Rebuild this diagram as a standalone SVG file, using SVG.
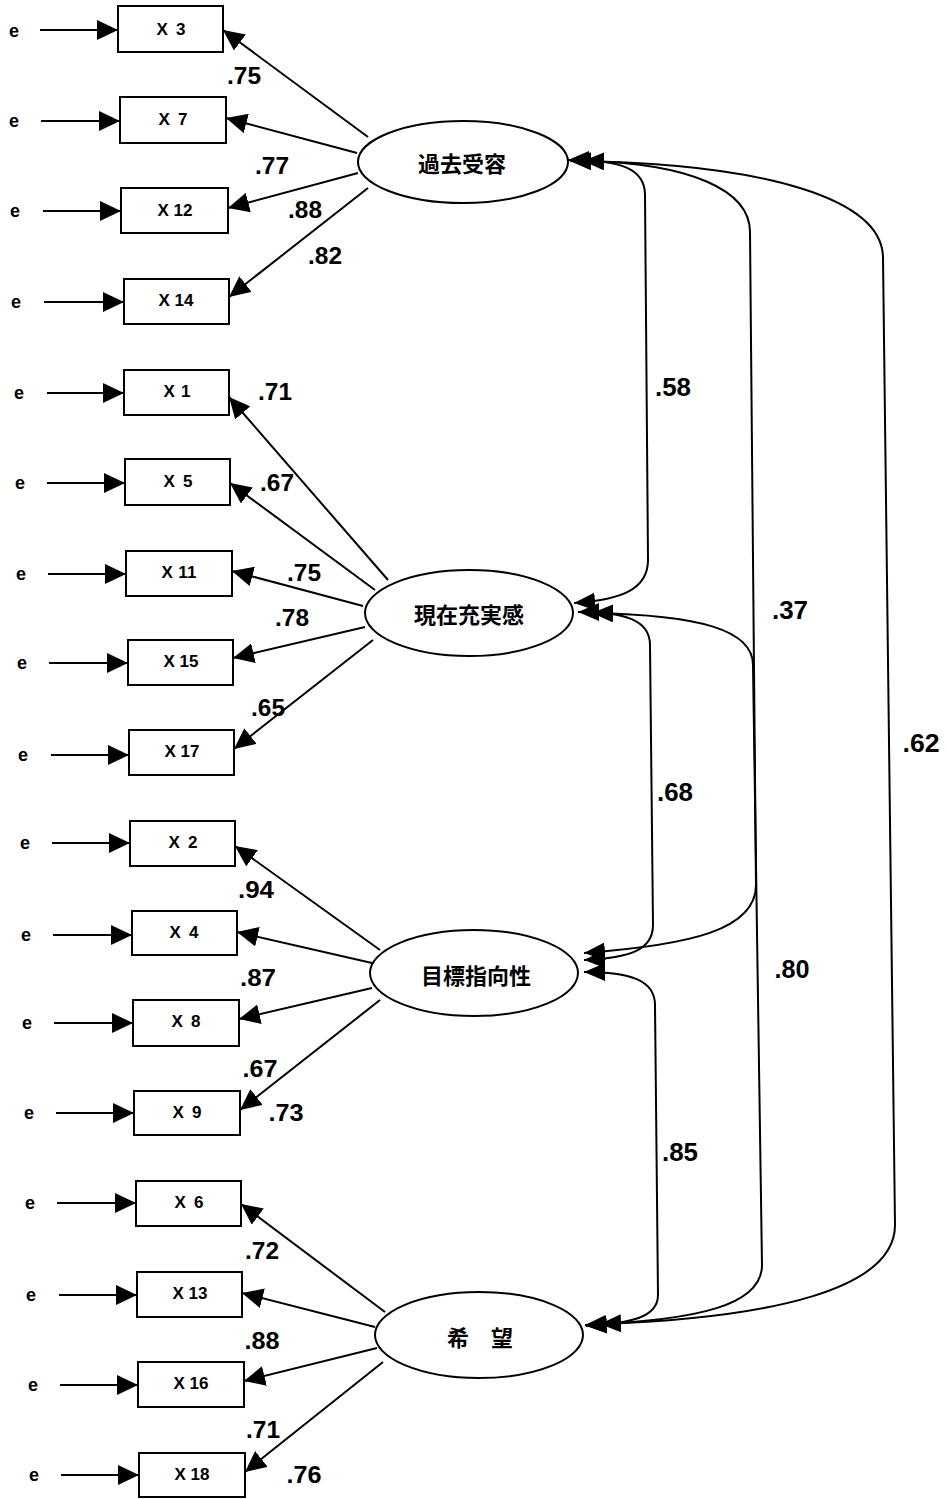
<svg xmlns="http://www.w3.org/2000/svg" width="946" height="1499" viewBox="0 0 946 1499">
<style>
.bx{fill:#fff;stroke:#000;stroke-width:2}
.el{fill:#fff;stroke:#000;stroke-width:2}
.ln{fill:none;stroke:#000;stroke-width:2}
.t{font-family:"Liberation Sans",Arial,sans-serif;font-weight:bold;fill:#000;dominant-baseline:central}
.bl{font-size:17px;text-anchor:middle}
.e{font-size:18px;text-anchor:middle}
.n{font-size:24px;text-anchor:middle}
.r{font-size:25px;text-anchor:middle}
.j{font-family:"Noto Sans CJK JP","Noto Sans CJK SC",sans-serif;font-weight:bold;font-size:22px;text-anchor:middle;dominant-baseline:central}
</style>
<defs>
<marker id="ah" markerUnits="userSpaceOnUse" markerWidth="22" markerHeight="20" refX="21" refY="10" orient="auto-start-reverse" viewBox="0 0 22 20">
<path d="M0,0 L21,10 L0,20 z" fill="#000"/>
</marker>
<marker id="ch" markerUnits="userSpaceOnUse" markerWidth="22" markerHeight="18" refX="21" refY="9" orient="auto-start-reverse" viewBox="0 0 22 18">
<path d="M0,0 L21,9 L0,18 z" fill="#000"/>
</marker>
</defs>

<g id="connectors">
<line class="ln" x1="40" y1="30" x2="118" y2="30" marker-end="url(#ah)"/>
<line class="ln" x1="41" y1="121" x2="120" y2="121" marker-end="url(#ah)"/>
<line class="ln" x1="43" y1="211" x2="121" y2="211" marker-end="url(#ah)"/>
<line class="ln" x1="44" y1="302" x2="124" y2="302" marker-end="url(#ah)"/>
<line class="ln" x1="47" y1="393" x2="124" y2="393" marker-end="url(#ah)"/>
<line class="ln" x1="47" y1="483" x2="125" y2="483" marker-end="url(#ah)"/>
<line class="ln" x1="48" y1="574" x2="126" y2="574" marker-end="url(#ah)"/>
<line class="ln" x1="49" y1="663" x2="128" y2="663" marker-end="url(#ah)"/>
<line class="ln" x1="51" y1="755" x2="129" y2="755" marker-end="url(#ah)"/>
<line class="ln" x1="52" y1="843" x2="130" y2="843" marker-end="url(#ah)"/>
<line class="ln" x1="53" y1="935" x2="132" y2="935" marker-end="url(#ah)"/>
<line class="ln" x1="54" y1="1023" x2="133" y2="1023" marker-end="url(#ah)"/>
<line class="ln" x1="56" y1="1113" x2="134" y2="1113" marker-end="url(#ah)"/>
<line class="ln" x1="57" y1="1203" x2="136" y2="1203" marker-end="url(#ah)"/>
<line class="ln" x1="59" y1="1295" x2="137" y2="1295" marker-end="url(#ah)"/>
<line class="ln" x1="60" y1="1385" x2="138" y2="1385" marker-end="url(#ah)"/>
<line class="ln" x1="61" y1="1475" x2="139" y2="1475" marker-end="url(#ah)"/>
<line class="ln" x1="368" y1="137" x2="223" y2="30" marker-end="url(#ah)"/>
<line class="ln" x1="357" y1="153" x2="226" y2="118" marker-end="url(#ah)"/>
<line class="ln" x1="358" y1="173" x2="228" y2="208" marker-end="url(#ah)"/>
<line class="ln" x1="368" y1="188" x2="229" y2="297" marker-end="url(#ah)"/>
<line class="ln" x1="388" y1="580" x2="229" y2="397" marker-end="url(#ah)"/>
<line class="ln" x1="375" y1="590" x2="230" y2="483" marker-end="url(#ah)"/>
<line class="ln" x1="363" y1="606" x2="232" y2="571" marker-end="url(#ah)"/>
<line class="ln" x1="365" y1="627" x2="233" y2="658" marker-end="url(#ah)"/>
<line class="ln" x1="373" y1="640" x2="234" y2="749" marker-end="url(#ah)"/>
<line class="ln" x1="380" y1="950" x2="235" y2="846" marker-end="url(#ah)"/>
<line class="ln" x1="372" y1="963" x2="237" y2="932" marker-end="url(#ah)"/>
<line class="ln" x1="372" y1="988" x2="239" y2="1019" marker-end="url(#ah)"/>
<line class="ln" x1="380" y1="1000" x2="240" y2="1110" marker-end="url(#ah)"/>
<line class="ln" x1="385" y1="1312" x2="241" y2="1204" marker-end="url(#ah)"/>
<line class="ln" x1="375" y1="1327" x2="242" y2="1293" marker-end="url(#ah)"/>
<line class="ln" x1="377" y1="1348" x2="244" y2="1381" marker-end="url(#ah)"/>
<line class="ln" x1="383" y1="1362" x2="245" y2="1472" marker-end="url(#ah)"/>
<path class="ln" d="M568,160 C620,160 645,168 645,195 L648,560 C648,590 620,600 574,603" marker-start="url(#ch)" marker-end="url(#ch)"/>
<path class="ln" d="M583,161 C690,163 750,190 750,232 L756,885 C756,930 690,945 584,953" marker-start="url(#ch)" marker-end="url(#ch)"/>
<path class="ln" d="M570,161 C770,163 883,200 883,258 L895,1225 C895,1290 770,1318 600,1324" marker-start="url(#ch)" marker-end="url(#ch)"/>
<path class="ln" d="M578,612 C625,612 650,620 650,645 L653,925 C653,950 630,958 584,960" marker-start="url(#ch)" marker-end="url(#ch)"/>
<path class="ln" d="M592,613 C700,615 753,630 753,665 L762,1265 C762,1305 700,1320 585,1325" marker-start="url(#ch)" marker-end="url(#ch)"/>
<path class="ln" d="M584,972 C630,972 655,980 655,1005 L658,1295 C658,1318 630,1323 586,1326" marker-start="url(#ch)" marker-end="url(#ch)"/>
</g>

<g id="labels">
<text class="t n" x="244" y="75" textLength="34" lengthAdjust="spacingAndGlyphs">.75</text>
<text class="t n" x="272" y="165" textLength="34" lengthAdjust="spacingAndGlyphs">.77</text>
<text class="t n" x="305" y="209" textLength="34" lengthAdjust="spacingAndGlyphs">.88</text>
<text class="t n" x="325" y="255" textLength="34" lengthAdjust="spacingAndGlyphs">.82</text>
<text class="t n" x="275" y="391" textLength="34" lengthAdjust="spacingAndGlyphs">.71</text>
<text class="t n" x="277" y="482" textLength="34" lengthAdjust="spacingAndGlyphs">.67</text>
<text class="t n" x="304" y="572" textLength="34" lengthAdjust="spacingAndGlyphs">.75</text>
<text class="t n" x="292" y="617" textLength="34" lengthAdjust="spacingAndGlyphs">.78</text>
<text class="t n" x="268" y="707" textLength="34" lengthAdjust="spacingAndGlyphs">.65</text>
<text class="t n" x="256" y="889" textLength="36" lengthAdjust="spacingAndGlyphs">.94</text>
<text class="t n" x="258" y="977" textLength="36" lengthAdjust="spacingAndGlyphs">.87</text>
<text class="t n" x="260" y="1068" textLength="35" lengthAdjust="spacingAndGlyphs">.67</text>
<text class="t n" x="286" y="1112" textLength="35" lengthAdjust="spacingAndGlyphs">.73</text>
<text class="t n" x="262" y="1250" textLength="34" lengthAdjust="spacingAndGlyphs">.72</text>
<text class="t n" x="262" y="1340" textLength="35" lengthAdjust="spacingAndGlyphs">.88</text>
<text class="t n" x="263" y="1429" textLength="34" lengthAdjust="spacingAndGlyphs">.71</text>
<text class="t n" x="304" y="1474" textLength="35" lengthAdjust="spacingAndGlyphs">.76</text>
<text class="t r" x="673" y="387" textLength="36" lengthAdjust="spacingAndGlyphs">.58</text>
<text class="t r" x="790" y="610" textLength="36" lengthAdjust="spacingAndGlyphs">.37</text>
<text class="t r" x="921" y="743" textLength="37" lengthAdjust="spacingAndGlyphs">.62</text>
<text class="t r" x="675" y="792" textLength="36" lengthAdjust="spacingAndGlyphs">.68</text>
<text class="t r" x="792" y="969" textLength="35" lengthAdjust="spacingAndGlyphs">.80</text>
<text class="t r" x="680" y="1152" textLength="36" lengthAdjust="spacingAndGlyphs">.85</text>
</g>

<g id="latent-1"><ellipse class="el" cx="463" cy="162" rx="105" ry="41"/><text class="j" x="462" y="162">過去受容</text></g>
<g id="latent-2"><ellipse class="el" cx="469" cy="613" rx="104" ry="43"/><text class="j" x="469" y="613">現在充実感</text></g>
<g id="latent-3"><ellipse class="el" cx="474" cy="973" rx="104" ry="43"/><text class="j" x="476" y="974">目標指向性</text></g>
<g id="latent-4"><ellipse class="el" cx="479" cy="1335" rx="104" ry="43"/><text class="j" x="480" y="1336">希　望</text></g>

<g id="obs-X3"><rect class="bx" x="118" y="6" width="105" height="46"/><text class="t bl" x="171" y="29" textLength="29" lengthAdjust="spacing">X 3</text><text class="t e" x="14" y="31">e</text></g>
<g id="obs-X7"><rect class="bx" x="120" y="97" width="106" height="46"/><text class="t bl" x="173" y="119" textLength="29" lengthAdjust="spacing">X 7</text><text class="t e" x="14" y="121">e</text></g>
<g id="obs-X12"><rect class="bx" x="121" y="188" width="107" height="45"/><text class="t bl" x="175" y="210" textLength="35" lengthAdjust="spacing">X 12</text><text class="t e" x="15" y="211">e</text></g>
<g id="obs-X14"><rect class="bx" x="124" y="279" width="105" height="45"/><text class="t bl" x="176" y="300" textLength="35" lengthAdjust="spacing">X 14</text><text class="t e" x="16" y="302">e</text></g>
<g id="obs-X1"><rect class="bx" x="124" y="370" width="105" height="45"/><text class="t bl" x="177" y="391" textLength="27" lengthAdjust="spacing">X 1</text><text class="t e" x="19" y="393">e</text></g>
<g id="obs-X5"><rect class="bx" x="125" y="459" width="105" height="46"/><text class="t bl" x="178" y="481" textLength="29" lengthAdjust="spacing">X 5</text><text class="t e" x="20" y="483">e</text></g>
<g id="obs-X11"><rect class="bx" x="126" y="551" width="106" height="45"/><text class="t bl" x="179" y="572" textLength="35" lengthAdjust="spacing">X 11</text><text class="t e" x="21" y="574">e</text></g>
<g id="obs-X15"><rect class="bx" x="128" y="640" width="105" height="45"/><text class="t bl" x="181" y="661" textLength="35" lengthAdjust="spacing">X 15</text><text class="t e" x="22" y="663">e</text></g>
<g id="obs-X17"><rect class="bx" x="129" y="730" width="105" height="45"/><text class="t bl" x="182" y="751" textLength="35" lengthAdjust="spacing">X 17</text><text class="t e" x="23" y="755">e</text></g>
<g id="obs-X2"><rect class="bx" x="130" y="821" width="105" height="45"/><text class="t bl" x="183" y="842" textLength="29" lengthAdjust="spacing">X 2</text><text class="t e" x="25" y="843">e</text></g>
<g id="obs-X4"><rect class="bx" x="132" y="911" width="105" height="44"/><text class="t bl" x="184" y="932" textLength="29" lengthAdjust="spacing">X 4</text><text class="t e" x="26" y="935">e</text></g>
<g id="obs-X8"><rect class="bx" x="133" y="1000" width="106" height="46"/><text class="t bl" x="186" y="1021" textLength="29" lengthAdjust="spacing">X 8</text><text class="t e" x="27" y="1023">e</text></g>
<g id="obs-X9"><rect class="bx" x="134" y="1091" width="106" height="44"/><text class="t bl" x="187" y="1112" textLength="29" lengthAdjust="spacing">X 9</text><text class="t e" x="29" y="1113">e</text></g>
<g id="obs-X6"><rect class="bx" x="136" y="1181" width="105" height="45"/><text class="t bl" x="189" y="1202" textLength="29" lengthAdjust="spacing">X 6</text><text class="t e" x="30" y="1203">e</text></g>
<g id="obs-X13"><rect class="bx" x="137" y="1272" width="105" height="45"/><text class="t bl" x="190" y="1293" textLength="35" lengthAdjust="spacing">X 13</text><text class="t e" x="31" y="1295">e</text></g>
<g id="obs-X16"><rect class="bx" x="138" y="1362" width="106" height="45"/><text class="t bl" x="191" y="1383" textLength="35" lengthAdjust="spacing">X 16</text><text class="t e" x="33" y="1385">e</text></g>
<g id="obs-X18"><rect class="bx" x="139" y="1453" width="106" height="44"/><text class="t bl" x="192" y="1474" textLength="35" lengthAdjust="spacing">X 18</text><text class="t e" x="34" y="1475">e</text></g>
</svg>
